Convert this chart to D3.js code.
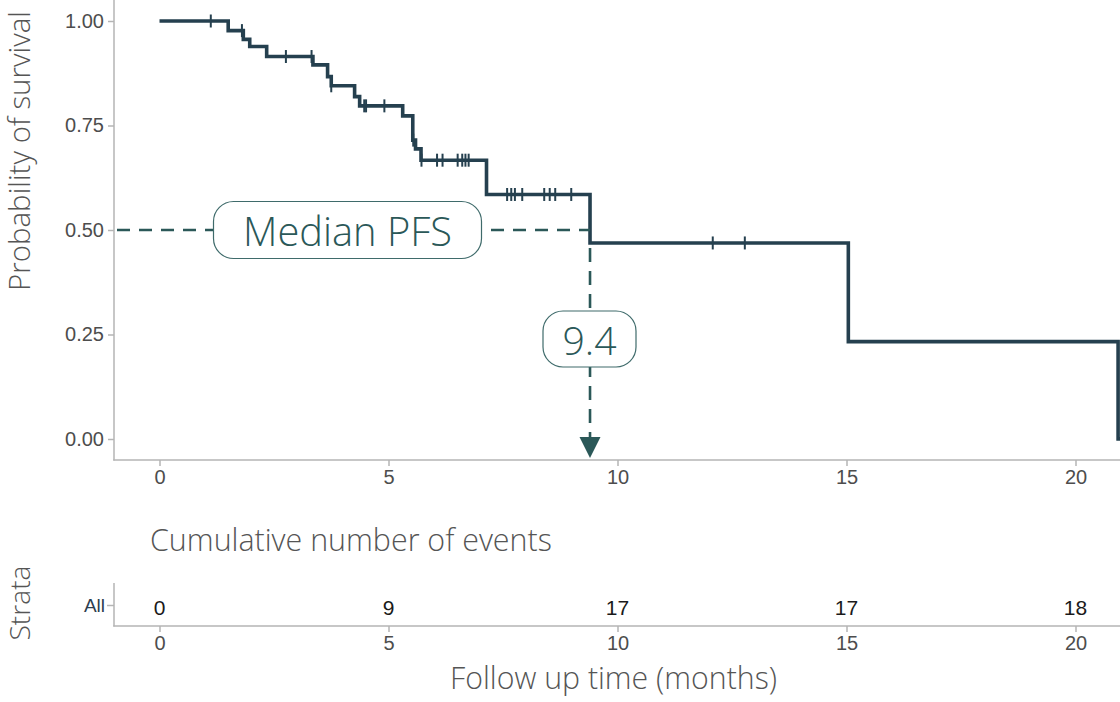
<!DOCTYPE html>
<html>
<head>
<meta charset="utf-8">
<script src="https://cdn.jsdelivr.net/npm/d3@7"></script>
<style>
  html, body { margin: 0; padding: 0; background: #fff; }
  svg { display: block; }
</style>
</head>
<body>
<svg id="chart" width="1120" height="702"></svg>
<script>
// ---- data ----
const stepTimes = [0, 1.50, 1.83, 1.97, 2.34, 3.35, 3.67, 3.75, 4.26, 4.37, 5.31, 5.53, 5.59, 5.71, 7.14, 9.4, 15.04, 20.93];
const survival  = [1.00, 0.977, 0.956, 0.939, 0.915, 0.895, 0.867, 0.845, 0.819, 0.797, 0.773, 0.715, 0.694, 0.667, 0.585, 0.469, 0.233, 0.00];
const censorTimes = [1.12, 1.80, 2.76, 3.32, 3.75, 4.47, 4.51, 4.91, 5.54, 5.72, 6.06, 6.18, 6.51, 6.61, 6.68, 6.75,
                     7.59, 7.68, 7.76, 7.92, 8.40, 8.52, 8.64, 8.99, 12.08, 12.78];
const xTicks = [0, 5, 10, 15, 20];
const yTicks = [0, 0.25, 0.5, 0.75, 1.0];
const tableTimes = [0, 5, 10, 15, 20];
const cumEvents = [0, 9, 17, 17, 18];
const strata = ["All"];
const medianTime = 9.4;
const medianLevel = 0.5;

// ---- layout ----
const svg = d3.select("#chart");
const W = 1120;
const x = d3.scaleLinear().domain([0, 20]).range([159.5, 1075.5]);
const y = d3.scaleLinear().domain([0, 1]).range([439, 21]);
const axisColor = "#b5b5b5";
const tickText = "#4d4d4d";
const curveColor = "#25404f";
const teal = "#2b5858";
const lightFont = "'Open Sans', Lato, sans-serif";
const sansFont = "'Liberation Sans', Arial, sans-serif";

// scale a text's font size so that its rendered width equals a target width
function fitWidth(sel, target) {
  const node = sel.node();
  const fs = parseFloat(sel.style("font-size"));
  const w = node.getComputedTextLength();
  if (w > 0) sel.style("font-size", (fs * target / w).toFixed(2) + "px");
  return sel;
}

// main panel axes
const gx = svg.append("g").attr("transform", "translate(0,460)")
  .call(d3.axisBottom(x).tickValues(xTicks).tickSize(6).tickSizeOuter(0).tickFormat(d3.format("d")));
const gy = svg.append("g").attr("transform", "translate(114,0)")
  .call(d3.axisLeft(y).tickValues(yTicks).tickSize(6).tickSizeOuter(0).tickFormat(d3.format(".2f")));
[gx, gy].forEach(g => {
  g.select(".domain").remove();
  g.selectAll(".tick line").attr("stroke", axisColor).attr("stroke-width", 1.5);
  g.selectAll(".tick text").attr("fill", tickText).style("font-family", sansFont).style("font-size", "20px");
});
gy.selectAll(".tick text").attr("x", -10);
gx.selectAll(".tick text").attr("y", 10);
svg.append("line").attr("x1", 114).attr("x2", 114).attr("y1", 0).attr("y2", 460.5).attr("stroke", axisColor).attr("stroke-width", 1.5);
svg.append("line").attr("x1", 113.25).attr("x2", W).attr("y1", 460).attr("y2", 460).attr("stroke", axisColor).attr("stroke-width", 1.5);

// survival curve (step)
const pts = stepTimes.map((t, i) => [t, survival[i]]);
const line = d3.line().x(d => x(d[0])).y(d => y(d[1])).curve(d3.curveStepAfter);
svg.append("path").datum(pts.concat([[21.5, 0]]))
  .attr("d", line).attr("fill", "none").attr("stroke", curveColor).attr("stroke-width", 3.6)
  .attr("stroke-linejoin", "miter");

function survAt(t) {
  let s = 1;
  for (let i = 0; i < stepTimes.length; i++) if (stepTimes[i] <= t) s = survival[i];
  return s;
}
svg.append("g").selectAll("line").data(censorTimes).join("line")
  .attr("x1", d => x(d)).attr("x2", d => x(d))
  .attr("y1", d => y(survAt(d)) - 6.5).attr("y2", d => y(survAt(d)) + 6.5)
  .attr("stroke", curveColor).attr("stroke-width", 2);

// median annotation
const dash = "13,9";
svg.append("line").attr("x1", 114).attr("x2", x(medianTime)).attr("y1", y(medianLevel)).attr("y2", y(medianLevel))
  .attr("stroke", teal).attr("stroke-width", 2.6).attr("stroke-dasharray", dash).attr("stroke-dashoffset", -3);
svg.append("line").attr("x1", x(medianTime)).attr("x2", x(medianTime)).attr("y1", y(survAt(medianTime)) + 5).attr("y2", 438)
  .attr("stroke", teal).attr("stroke-width", 2.6).attr("stroke-dasharray", "14,9");
const ax = x(medianTime);
svg.append("path").attr("d", `M${ax - 10.5},437 L${ax + 10.5},437 L${ax},458 Z`).attr("fill", teal);

function labelBox(cx, cy, w, h, text, fs, tw) {
  svg.append("rect").attr("x", cx - w / 2).attr("y", cy - h / 2).attr("width", w).attr("height", h)
    .attr("rx", 20).attr("ry", 20).attr("fill", "#fff").attr("stroke", "#3f6b6b").attr("stroke-width", 1.2);
  const t = svg.append("text").attr("x", cx).attr("y", cy).attr("text-anchor", "middle").attr("dominant-baseline", "central")
    .attr("fill", teal).style("font-family", lightFont).style("font-weight", 300).style("font-size", fs + "px").text(text);
  fitWidth(t, tw);
}
labelBox(347.5, 230, 268, 57, "Median PFS", 38, 209);
labelBox(589.5, 339, 93, 56, medianTime.toFixed(1), 38, 54);

function lightText(text, fs) {
  return svg.append("text").attr("fill", "#555").style("font-family", lightFont).style("font-weight", 300)
    .style("font-size", fs + "px").text(text);
}

// y axis title
fitWidth(lightText("Probability of survival", 26)
  .attr("transform", "translate(30,291) rotate(-90)").attr("text-anchor", "start"), 280);

// ---- risk table ----
fitWidth(lightText("Cumulative number of events", 26).attr("x", 150).attr("y", 551), 402);

const yS = d3.scalePoint().domain(strata).range([605, 605]);
const gx2 = svg.append("g").attr("transform", "translate(0,626)")
  .call(d3.axisBottom(x).tickValues(xTicks).tickSize(6).tickSizeOuter(0).tickFormat(d3.format("d")));
const gy2 = svg.append("g").attr("transform", "translate(114,0)")
  .call(d3.axisLeft(yS).tickSize(7).tickSizeOuter(0));
[gx2, gy2].forEach(g => {
  g.select(".domain").remove();
  g.selectAll(".tick line").attr("stroke", axisColor).attr("stroke-width", 1.5);
  g.selectAll(".tick text").style("font-family", sansFont);
});
gx2.selectAll(".tick text").attr("fill", tickText).style("font-size", "20px").attr("y", 10);
gy2.selectAll(".tick text").attr("fill", "#2c3e50").style("font-size", "19px").attr("x", -9);
svg.append("line").attr("x1", 114).attr("x2", 114).attr("y1", 583).attr("y2", 626.5).attr("stroke", axisColor).attr("stroke-width", 1.5);
svg.append("line").attr("x1", 113.25).attr("x2", W).attr("y1", 626).attr("y2", 626).attr("stroke", axisColor).attr("stroke-width", 1.5);

svg.append("g").selectAll("text").data(tableTimes).join("text")
  .attr("x", d => x(d)).attr("y", yS("All") + 2).attr("dy", "0.36em").attr("text-anchor", "middle")
  .attr("fill", "#1a1a1a").style("font-family", sansFont).style("font-size", "21px")
  .text((d, i) => cumEvents[i]);

fitWidth(lightText("Strata", 26).attr("transform", "translate(30,603) rotate(-90)").attr("text-anchor", "middle"), 75);

fitWidth(lightText("Follow up time (months)", 26).attr("x", 613.5).attr("y", 689).attr("text-anchor", "middle"), 327);
</script>
</body>
</html>
